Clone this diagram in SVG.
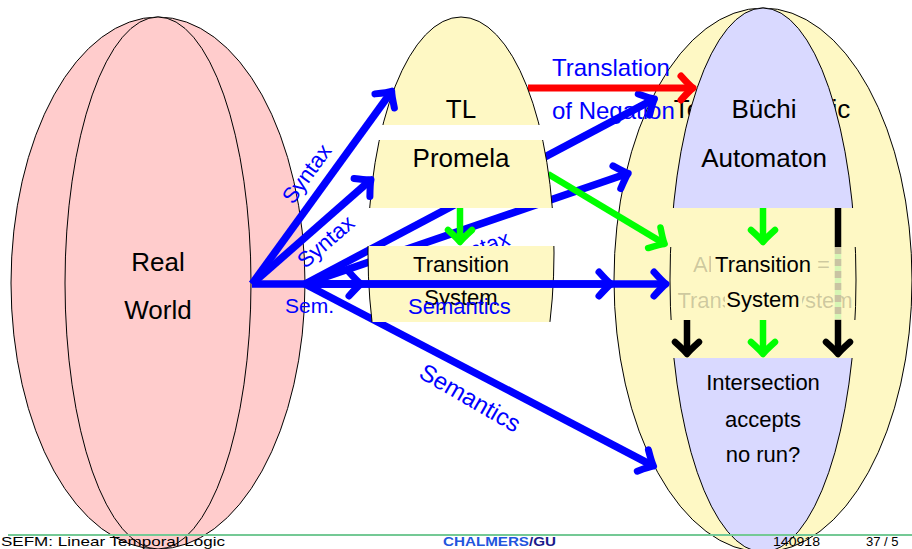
<svg xmlns="http://www.w3.org/2000/svg" width="912" height="549" viewBox="0 0 912 549">
<style>
text{font-family:"Liberation Sans",Arial,sans-serif}
.node{fill:#000;text-anchor:middle;font-size:26px}
.sm{font-size:22px}
.lbl{fill:#00f;font-size:22px}
.ol{stroke:#000;stroke-width:1}
.pink{fill:#ffcccc}
.yel{fill:#fef8c4}
.blu{fill:#d9d9ff}
.arr{fill:none;stroke-linecap:butt}
.b{stroke:#00f;stroke-width:7.5}
.g{stroke:#0f0;stroke-width:6.5}
.r{stroke:#f00;stroke-width:7}
.k{stroke:#000;stroke-width:6.5}
.foot{font-size:13px;fill:#000}
</style>
<defs>
<clipPath id="cTL"><rect x="300" y="0" width="320" height="125"/></clipPath>
<clipPath id="cPR"><rect x="300" y="140" width="320" height="68"/></clipPath>
<clipPath id="cTS"><rect x="300" y="246" width="320" height="76"/></clipPath>
<clipPath id="cBU"><rect x="600" y="0" width="320" height="208"/></clipPath>
<clipPath id="cRTS"><rect x="600" y="247" width="320" height="73"/></clipPath>
<clipPath id="cIN"><rect x="600" y="358" width="320" height="200"/></clipPath>
<marker id="mb" markerUnits="userSpaceOnUse" viewBox="-20 -20 40 40" markerWidth="40" markerHeight="40" refX="0" refY="0" orient="auto" overflow="visible"><path d="M-12,-12 Q-3,-2 0,0 Q-3,2 -12,12" fill="none" stroke="#00f" stroke-width="7" stroke-linecap="round" stroke-linejoin="round"/></marker>
<marker id="mg" markerUnits="userSpaceOnUse" viewBox="-20 -20 40 40" markerWidth="40" markerHeight="40" refX="0" refY="0" orient="auto" overflow="visible"><path d="M-12,-12 Q-3,-2 0,0 Q-3,2 -12,12" fill="none" stroke="#0f0" stroke-width="6.5" stroke-linecap="round" stroke-linejoin="round"/></marker>
<marker id="mr" markerUnits="userSpaceOnUse" viewBox="-20 -20 40 40" markerWidth="40" markerHeight="40" refX="0" refY="0" orient="auto" overflow="visible"><path d="M-12,-12 Q-3,-2 0,0 Q-3,2 -12,12" fill="none" stroke="#f00" stroke-width="7" stroke-linecap="round" stroke-linejoin="round"/></marker>
<marker id="mk" markerUnits="userSpaceOnUse" viewBox="-20 -20 40 40" markerWidth="40" markerHeight="40" refX="0" refY="0" orient="auto" overflow="visible"><path d="M-12,-12 Q-3,-2 0,0 Q-3,2 -12,12" fill="none" stroke="#000" stroke-width="6.5" stroke-linecap="round" stroke-linejoin="round"/></marker>
</defs>

<g id="real-world">
<ellipse class="pink ol" cx="158" cy="283" rx="147" ry="266"/>
<ellipse class="pink ol" cx="158" cy="283" rx="93" ry="266"/>
<text class="node" x="158" y="271">Real</text>
<text class="node" x="158" y="319">World</text>
</g>

<g id="temporal-logic">
<ellipse class="yel ol" cx="763" cy="280" rx="149" ry="272"/>
<text class="node" x="762" y="118">Temporal Logic</text>
</g>

<g id="translation-label">
<text class="lbl" x="552" y="76" style="font-size:24px">Translation</text>
<text class="lbl" x="552" y="119" style="font-size:24px">of Negation</text>
</g>

<g id="buchi">
<ellipse class="blu ol" cx="763" cy="280" rx="93" ry="272" clip-path="url(#cBU)"/>
<text class="node" x="764" y="118">Büchi</text>
<text class="node" x="764" y="167">Automaton</text>
</g>

<g id="all-runs">
<ellipse class="yel ol" cx="763" cy="280" rx="93" ry="272" clip-path="url(#cRTS)"/>
<text class="node sm" x="693" y="272" style="text-anchor:start" fill-opacity="0.2">All Runs<tspan x="817">=</tspan></text>
<text class="node sm" x="765" y="308" fill-opacity="0.2">Transition System</text>
<rect class="yel" x="711" y="253" width="104" height="25"/>
<rect class="yel" x="725" y="287" width="77" height="27"/>
<text class="node sm" x="763" y="272">Transition</text>
<text class="node sm" x="763" y="307">System</text>
</g>

<g id="intersection">
<ellipse class="blu ol" cx="763" cy="280" rx="93" ry="272" clip-path="url(#cIN)"/>
<text class="node sm" x="763" y="390">Intersection</text>
<text class="node sm" x="763" y="427">accepts</text>
<text class="node sm" x="763" y="462">no run?</text>
</g>

<g id="connectors-back">
<line class="arr b" x1="305" y1="284" x2="654.5" y2="98.9" marker-end="url(#mb)"/>
<line class="arr b" x1="305" y1="284" x2="628.2" y2="173.3" marker-end="url(#mb)"/>
<line class="arr b" x1="305" y1="284" x2="653.5" y2="466.1" marker-end="url(#mb)"/>
<line class="arr r" x1="528" y1="88" x2="693" y2="88" marker-end="url(#mr)"/>
<line class="arr g" x1="548" y1="174" x2="664.6" y2="243.9" marker-end="url(#mg)"/>
<text class="lbl" text-anchor="middle" transform="translate(477,249) rotate(-19)" y="7">Syntax</text>
</g>

<g id="tl">
<ellipse class="yel ol" cx="461" cy="253" rx="93" ry="236" clip-path="url(#cTL)"/>
<text class="node" x="461" y="118">TL</text>
</g>

<g id="promela">
<ellipse class="yel ol" cx="461" cy="253" rx="93" ry="236" clip-path="url(#cPR)"/>
<text class="node" x="461" y="167">Promela</text>
</g>

<g id="transition-system">
<ellipse class="yel ol" cx="461" cy="253" rx="93" ry="236" clip-path="url(#cTS)"/>
<text class="node sm" x="461" y="272">Transition</text>
<text class="node sm" x="461" y="305">System</text>
</g>

<g id="connectors">
<line class="arr b" x1="252" y1="284" x2="391.7" y2="91.2" marker-end="url(#mb)"/>
<line class="arr b" x1="252" y1="284" x2="371" y2="179.6" marker-end="url(#mb)"/>
<line class="arr b" x1="252" y1="284" x2="361" y2="284" marker-end="url(#mb)"/>
<line class="arr b" x1="305" y1="284" x2="611" y2="284" marker-end="url(#mb)"/>
<line class="arr b" x1="305" y1="284" x2="666" y2="284" marker-end="url(#mb)"/>
<line class="arr g" x1="460" y1="208" x2="460" y2="242" marker-end="url(#mg)"/>
<line class="arr g" x1="763" y1="208" x2="763" y2="242" marker-end="url(#mg)"/>
<line class="arr g" x1="763" y1="320" x2="763" y2="354" marker-end="url(#mg)"/>
<line class="arr k" x1="687" y1="320" x2="687" y2="354" marker-end="url(#mk)"/>
<line class="arr k" x1="838" y1="208" x2="838" y2="247"/>
<line class="arr" x1="838" y1="247" x2="838" y2="320" stroke="#d6f6b4" stroke-width="6.5"/>
<line class="arr" x1="838" y1="247" x2="838" y2="320" stroke="#c9c3a2" stroke-width="6.5" stroke-dasharray="7 5"/>
<line class="arr k" x1="838" y1="320" x2="838" y2="354" marker-end="url(#mk)"/>
<text class="lbl" text-anchor="middle" transform="translate(307,174) rotate(-54)" y="7">Syntax</text>
<text class="lbl" text-anchor="middle" transform="translate(326,242) rotate(-41)" y="7">Syntax</text>
<text class="lbl" x="285" y="313" style="font-size:21px">Sem.</text>
<text class="lbl" x="408" y="314">Semantics</text>
<text class="lbl" text-anchor="middle" transform="translate(470,398) rotate(30)" y="8" style="font-size:24px">Semantics</text>
</g>

<g id="footer">
<line x1="8" y1="535" x2="912" y2="535" stroke="#74c995" stroke-width="2"/>
<text class="foot" x="1" y="546" textLength="224" lengthAdjust="spacingAndGlyphs">SEFM: Linear Temporal Logic</text>
<text class="foot" x="443" y="546" font-weight="bold" textLength="113" lengthAdjust="spacingAndGlyphs"><tspan fill="#2255dd">CHALMERS</tspan><tspan fill="#1a1a8a">/GU</tspan></text>
<text class="foot" x="773" y="546" textLength="47" lengthAdjust="spacingAndGlyphs">140918</text>
<text class="foot" x="866" y="546">37 / 5</text>
</g>
</svg>
